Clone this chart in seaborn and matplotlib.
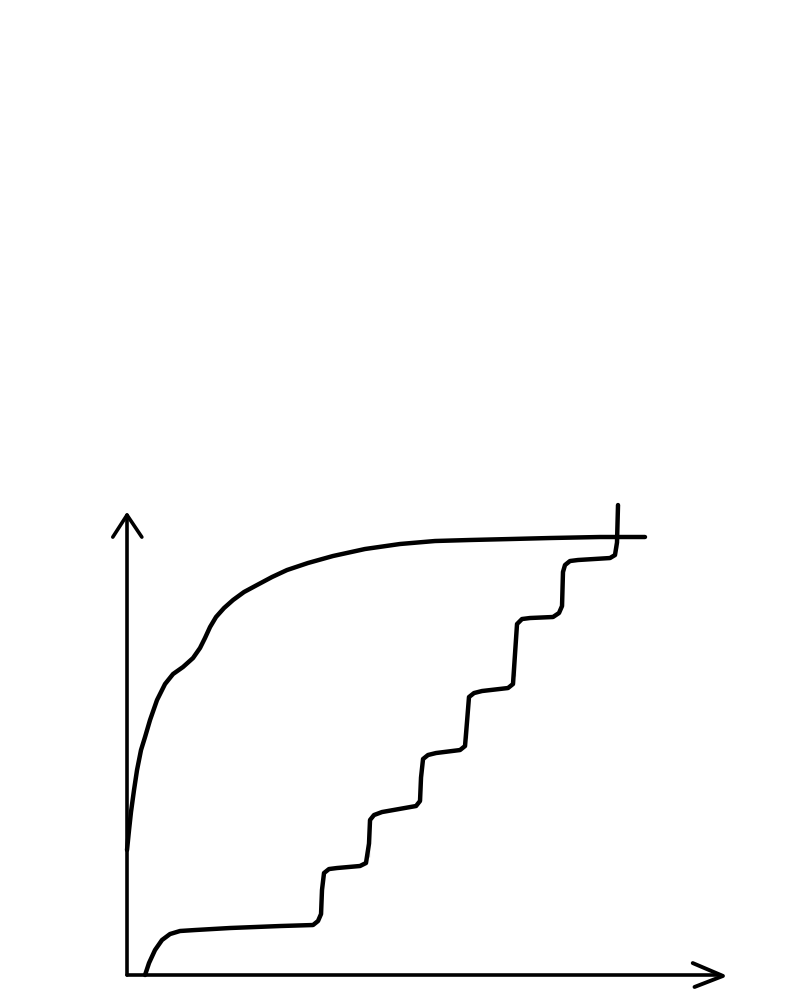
import numpy as np
import pandas as pd
import matplotlib
matplotlib.use("Agg")
import matplotlib.pyplot as plt
import seaborn as sns

# smooth saturating curve (x and y in 0-100 axis units)
smooth_x = [0, 0.34, 0.67, 1.18, 1.69, 2.36, 3.04, 3.88, 5.06, 6.41, 7.76, 9.44, 11.13,
            12.31, 13.15, 14.00, 15.01, 16.36, 17.88, 19.73, 21.92, 24.45, 26.98, 30.52,
            34.74, 40.13, 46.04, 51.94, 57.84, 64.59, 71.33, 79.76, 87.35]
smooth_y = [27.17, 31.52, 35.43, 40.22, 44.57, 48.91, 51.74, 55.43, 59.78, 63.26, 65.43,
            66.96, 68.91, 71.09, 73.26, 75.65, 77.83, 79.78, 81.52, 83.26, 84.78, 86.52,
            88.04, 89.57, 91.09, 92.61, 93.70, 94.35, 94.57, 94.78, 95.00, 95.22, 95.22]

# staircase curve
stair_x = [3.04, 3.71, 4.72, 5.90, 7.25, 8.94, 11.47, 17.37, 25.80, 31.37, 32.21, 32.72,
           32.88, 32.88, 33.22, 34.06, 35.41, 39.29, 40.30, 40.81, 40.81, 40.98, 41.65,
           43.00, 48.74, 49.41, 49.58, 49.58, 49.92, 50.76, 52.11, 56.16, 57.00, 57.34,
           57.34, 57.67, 58.52, 59.87, 64.25, 65.09, 65.43, 65.43, 65.77, 66.61, 67.96,
           71.84, 72.85, 73.36, 73.52, 73.86, 74.70, 76.05, 81.45, 82.29, 82.63, 82.63,
           82.80]
stair_y = [0, 2.61, 5.43, 7.61, 8.91, 9.57, 9.78, 10.22, 10.65, 10.87, 11.74, 13.26,
           16.30, 20.65, 22.17, 23.04, 23.26, 23.70, 24.35, 25.65, 31.52, 33.70, 34.78,
           35.43, 36.74, 37.83, 40.22, 45.65, 46.96, 47.83, 48.26, 48.91, 49.78, 51.52,
           58.70, 60.43, 61.30, 61.74, 62.39, 63.26, 65.00, 74.57, 76.30, 77.39, 77.61,
           77.83, 78.70, 80.22, 87.61, 89.13, 90.00, 90.22, 90.65, 91.30, 92.83, 95.22,
           102.17]

sns.set_style("white")
fig = plt.figure(figsize=(8, 10), dpi=100)
ax = fig.add_axes([0, 0, 1, 1])

smooth = pd.DataFrame({"x": smooth_x, "y": smooth_y})
stairs = pd.DataFrame({"x": stair_x, "y": stair_y})

sns.lineplot(data=smooth, x="x", y="y", sort=False, color="black", lw=3.2,
             solid_capstyle="round", solid_joinstyle="round", ax=ax)
sns.lineplot(data=stairs, x="x", y="y", sort=False, color="black", lw=3.2,
             solid_capstyle="round", solid_joinstyle="round", ax=ax)

# hand drawn axes with arrow heads
ax.plot([0, 0], [0, 100], color="black", lw=2.6, solid_capstyle="round")
ax.plot([-2.4, 0, 2.5], [95.2, 100, 95.2], color="black", lw=2.6,
        solid_capstyle="round", solid_joinstyle="round")
ax.plot([0, 100], [0, 0], color="black", lw=2.6, solid_capstyle="round")
ax.plot([95.4, 100.5, 95.7], [2.6, -0.2, -2.6], color="black", lw=2.8,
        solid_capstyle="round", solid_joinstyle="round")

ax.set_xlim(-21.42, 113.49)
ax.set_ylim(-5.43, 211.96)
ax.axis("off")

fig.savefig("out.png", dpi=100)
